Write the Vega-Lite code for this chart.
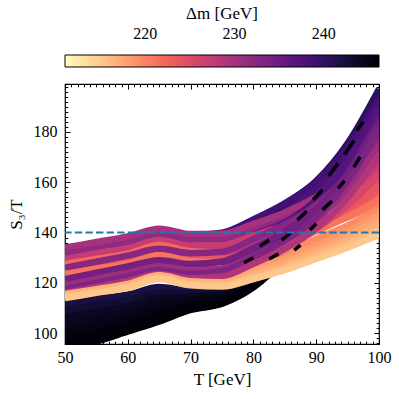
{
"$schema": "https://vega.github.io/schema/vega-lite/v6.json",
"width": 314, "height": 260,
"autosize": {"type": "none"},
"padding": {"left": 65, "top": 84, "right": 20, "bottom": 55},
"background": "white",
"title": {"text": "Δm [GeV]", "anchor": "middle", "frame": "group", "offset": 32, "font": "Liberation Serif", "fontSize": 17, "fontWeight": "normal", "color": "black"},
"config": {
  "view": {"stroke": "black", "strokeWidth": 1.2},
  "font": "Liberation Serif",
  "axis": {"grid": false, "domain": false, "labelFont": "Liberation Serif", "labelFontSize": 16, "labelColor": "black", "titleFont": "Liberation Serif", "titleFontSize": 17, "titleFontWeight": "normal", "titleColor": "black", "tickColor": "black", "tickWidth": 1, "labelFlush": false},
  "legend": {"orient": "none", "direction": "horizontal", "legendX": 0, "legendY": -29, "gradientLength": 314, "gradientThickness": 12, "gradientStrokeColor": "black", "gradientStrokeWidth": 1, "labelFont": "Liberation Serif", "labelFontSize": 16, "labelColor": "black", "padding": 0}
},
"resolve": {"axis": {"x": "independent", "y": "independent"}},
"datasets": {
"dark": [
{"curve":"d7","dm":242,"T":50,"S":112},{"curve":"d7","dm":242,"T":55,"S":113.5},{"curve":"d7","dm":242,"T":60,"S":115},{"curve":"d7","dm":242,"T":65,"S":118},{"curve":"d7","dm":242,"T":70,"S":116.5},{"curve":"d7","dm":242,"T":75,"S":117},{"curve":"d7","dm":242,"T":80,"S":121},{"curve":"d7","dm":242,"T":85,"S":136},{"curve":"d7","dm":242,"T":90,"S":156.5},{"curve":"d7","dm":242,"T":95,"S":174},
{"curve":"d6","dm":243,"T":50,"S":109},{"curve":"d6","dm":243,"T":55,"S":110.8},{"curve":"d6","dm":243,"T":60,"S":112.7},{"curve":"d6","dm":243,"T":65,"S":115.8},{"curve":"d6","dm":243,"T":70,"S":115.3},{"curve":"d6","dm":243,"T":75,"S":116.2},{"curve":"d6","dm":243,"T":80,"S":120.6},{"curve":"d6","dm":243,"T":85,"S":135},{"curve":"d6","dm":243,"T":90,"S":155},{"curve":"d6","dm":243,"T":95,"S":173},
{"curve":"d5","dm":244,"T":50,"S":106},{"curve":"d5","dm":244,"T":55,"S":108},{"curve":"d5","dm":244,"T":60,"S":110.3},{"curve":"d5","dm":244,"T":65,"S":113.7},{"curve":"d5","dm":244,"T":70,"S":114.2},{"curve":"d5","dm":244,"T":75,"S":115.3},{"curve":"d5","dm":244,"T":80,"S":120.2},{"curve":"d5","dm":244,"T":85,"S":134},{"curve":"d5","dm":244,"T":90,"S":153.5},{"curve":"d5","dm":244,"T":95,"S":171.5},
{"curve":"d4","dm":244.5,"T":50,"S":103},{"curve":"d4","dm":244.5,"T":55,"S":105.3},{"curve":"d4","dm":244.5,"T":60,"S":108},{"curve":"d4","dm":244.5,"T":65,"S":111.5},{"curve":"d4","dm":244.5,"T":70,"S":113},{"curve":"d4","dm":244.5,"T":75,"S":114.5},{"curve":"d4","dm":244.5,"T":80,"S":119.8},{"curve":"d4","dm":244.5,"T":85,"S":133},{"curve":"d4","dm":244.5,"T":90,"S":152},{"curve":"d4","dm":244.5,"T":95,"S":170}
],
"blk": [
{"curve":"d3","dm":245,"T":50,"S":100},{"curve":"d3","dm":245,"T":55,"S":102.5},{"curve":"d3","dm":245,"T":60,"S":105.7},{"curve":"d3","dm":245,"T":65,"S":109.3},{"curve":"d3","dm":245,"T":70,"S":111.8},{"curve":"d3","dm":245,"T":75,"S":113.7},{"curve":"d3","dm":245,"T":80,"S":119.3},{"curve":"d3","dm":245,"T":85,"S":132},{"curve":"d3","dm":245,"T":90,"S":150},{"curve":"d3","dm":245,"T":95,"S":168.5},
{"curve":"d2","dm":245.5,"T":50,"S":97},{"curve":"d2","dm":245.5,"T":55,"S":99.8},{"curve":"d2","dm":245.5,"T":60,"S":103.3},{"curve":"d2","dm":245.5,"T":65,"S":107.2},{"curve":"d2","dm":245.5,"T":70,"S":110.7},{"curve":"d2","dm":245.5,"T":75,"S":112.8},{"curve":"d2","dm":245.5,"T":80,"S":118.9},{"curve":"d2","dm":245.5,"T":85,"S":131},{"curve":"d2","dm":245.5,"T":90,"S":148},{"curve":"d2","dm":245.5,"T":95,"S":167},
{"curve":"d1","dm":246,"T":50,"S":94},{"curve":"d1","dm":246,"T":55,"S":97},{"curve":"d1","dm":246,"T":60,"S":101},{"curve":"d1","dm":246,"T":65,"S":105},{"curve":"d1","dm":246,"T":70,"S":109.5},{"curve":"d1","dm":246,"T":75,"S":112},{"curve":"d1","dm":246,"T":80,"S":118.5},{"curve":"d1","dm":246,"T":85,"S":130},{"curve":"d1","dm":246,"T":90,"S":146},{"curve":"d1","dm":246,"T":95,"S":165}
],
"mainA": [
{"curve":"M30","dm":239.5,"T":50,"S":132},{"curve":"M30","dm":239.5,"T":55,"S":134.5},{"curve":"M30","dm":239.5,"T":60,"S":137},{"curve":"M30","dm":239.5,"T":65,"S":139.5},{"curve":"M30","dm":239.5,"T":70,"S":138},{"curve":"M30","dm":239.5,"T":75,"S":139.1},{"curve":"M30","dm":239.5,"T":80,"S":144.6},{"curve":"M30","dm":239.5,"T":85,"S":151.2},{"curve":"M30","dm":239.5,"T":90,"S":160.3},{"curve":"M30","dm":239.5,"T":95,"S":174.6},{"curve":"M30","dm":239.5,"T":100,"S":195},
{"curve":"M2","dm":240.4,"T":50,"S":131},{"curve":"M2","dm":240.4,"T":55,"S":133.6},{"curve":"M2","dm":240.4,"T":60,"S":136.1},{"curve":"M2","dm":240.4,"T":65,"S":138.5},{"curve":"M2","dm":240.4,"T":70,"S":137.1},{"curve":"M2","dm":240.4,"T":75,"S":138.3},{"curve":"M2","dm":240.4,"T":80,"S":144},{"curve":"M2","dm":240.4,"T":85,"S":150.9},{"curve":"M2","dm":240.4,"T":90,"S":160.4},{"curve":"M2","dm":240.4,"T":95,"S":175.4},{"curve":"M2","dm":240.4,"T":100,"S":197},
{"curve":"M1","dm":238.5,"T":50,"S":133},{"curve":"M1","dm":238.5,"T":55,"S":135.5},{"curve":"M1","dm":238.5,"T":60,"S":138},{"curve":"M1","dm":238.5,"T":65,"S":140.5},{"curve":"M1","dm":238.5,"T":70,"S":139},{"curve":"M1","dm":238.5,"T":75,"S":139.9},{"curve":"M1","dm":238.5,"T":80,"S":145.2},{"curve":"M1","dm":238.5,"T":85,"S":151.6},{"curve":"M1","dm":238.5,"T":90,"S":160.3},{"curve":"M1","dm":238.5,"T":95,"S":173.8},{"curve":"M1","dm":238.5,"T":100,"S":193},
{"curve":"M3","dm":237.8,"T":50,"S":129},{"curve":"M3","dm":237.8,"T":55,"S":131.5},{"curve":"M3","dm":237.8,"T":60,"S":134},{"curve":"M3","dm":237.8,"T":65,"S":136.5},{"curve":"M3","dm":237.8,"T":70,"S":135},{"curve":"M3","dm":237.8,"T":75,"S":136},{"curve":"M3","dm":237.8,"T":80,"S":141.5},{"curve":"M3","dm":237.8,"T":85,"S":148},{"curve":"M3","dm":237.8,"T":90,"S":157},{"curve":"M3","dm":237.8,"T":95,"S":171},{"curve":"M3","dm":237.8,"T":100,"S":191},
{"curve":"M4","dm":236,"T":50,"S":127},{"curve":"M4","dm":236,"T":55,"S":129.5},{"curve":"M4","dm":236,"T":60,"S":132},{"curve":"M4","dm":236,"T":65,"S":134.5},{"curve":"M4","dm":236,"T":70,"S":133},{"curve":"M4","dm":236,"T":75,"S":133.9},{"curve":"M4","dm":236,"T":80,"S":139.2},{"curve":"M4","dm":236,"T":85,"S":145.6},{"curve":"M4","dm":236,"T":90,"S":154.3},{"curve":"M4","dm":236,"T":95,"S":167.8},{"curve":"M4","dm":236,"T":100,"S":187},
{"curve":"M5","dm":226.4,"T":50,"S":128},{"curve":"M5","dm":226.4,"T":55,"S":130.2},{"curve":"M5","dm":226.4,"T":60,"S":132.3},{"curve":"M5","dm":226.4,"T":65,"S":135.5},{"curve":"M5","dm":226.4,"T":70,"S":133.3},{"curve":"M5","dm":226.4,"T":75,"S":133.3},{"curve":"M5","dm":226.4,"T":80,"S":137.1},{"curve":"M5","dm":226.4,"T":85,"S":141.6},{"curve":"M5","dm":226.4,"T":90,"S":147.6},{"curve":"M5","dm":226.4,"T":95,"S":155.1},{"curve":"M5","dm":226.4,"T":100,"S":165},
{"curve":"M6","dm":220.3,"T":50,"S":126},{"curve":"M6","dm":220.3,"T":55,"S":128},{"curve":"M6","dm":220.3,"T":60,"S":130},{"curve":"M6","dm":220.3,"T":65,"S":133.5},{"curve":"M6","dm":220.3,"T":70,"S":131},{"curve":"M6","dm":220.3,"T":75,"S":130.5},{"curve":"M6","dm":220.3,"T":80,"S":133.5},{"curve":"M6","dm":220.3,"T":85,"S":137},{"curve":"M6","dm":220.3,"T":90,"S":141.5},{"curve":"M6","dm":220.3,"T":95,"S":146},{"curve":"M6","dm":220.3,"T":100,"S":151},
{"curve":"M13","dm":224.6,"T":50,"S":130.5},{"curve":"M13","dm":224.6,"T":55,"S":132.6},{"curve":"M13","dm":224.6,"T":60,"S":134.7},{"curve":"M13","dm":224.6,"T":65,"S":138},{"curve":"M13","dm":224.6,"T":70,"S":135.7},{"curve":"M13","dm":224.6,"T":75,"S":135.4},{"curve":"M13","dm":224.6,"T":80,"S":138.8},{"curve":"M13","dm":224.6,"T":85,"S":142.7},{"curve":"M13","dm":224.6,"T":90,"S":147.9},{"curve":"M13","dm":224.6,"T":95,"S":153.8},{"curve":"M13","dm":224.6,"T":100,"S":161},
{"curve":"M14","dm":231.7,"T":50,"S":131.5},{"curve":"M14","dm":231.7,"T":55,"S":133.8},{"curve":"M14","dm":231.7,"T":60,"S":136.1},{"curve":"M14","dm":231.7,"T":65,"S":139},{"curve":"M14","dm":231.7,"T":70,"S":137.1},{"curve":"M14","dm":231.7,"T":75,"S":137.4},{"curve":"M14","dm":231.7,"T":80,"S":141.8},{"curve":"M14","dm":231.7,"T":85,"S":146.9},{"curve":"M14","dm":231.7,"T":90,"S":153.9},{"curve":"M14","dm":231.7,"T":95,"S":163.7},{"curve":"M14","dm":231.7,"T":100,"S":177},
{"curve":"M12","dm":229.9,"T":50,"S":134},{"curve":"M12","dm":229.9,"T":55,"S":136.2},{"curve":"M12","dm":229.9,"T":60,"S":138.4},{"curve":"M12","dm":229.9,"T":65,"S":141.5},{"curve":"M12","dm":229.9,"T":70,"S":139.4},{"curve":"M12","dm":229.9,"T":75,"S":139.5},{"curve":"M12","dm":229.9,"T":80,"S":143.4},{"curve":"M12","dm":229.9,"T":85,"S":148},{"curve":"M12","dm":229.9,"T":90,"S":154.2},{"curve":"M12","dm":229.9,"T":95,"S":162.3},{"curve":"M12","dm":229.9,"T":100,"S":173},
{"curve":"M23","dm":227.3,"T":50,"S":129.5},{"curve":"M23","dm":227.3,"T":55,"S":131.7},{"curve":"M23","dm":227.3,"T":60,"S":133.8},{"curve":"M23","dm":227.3,"T":65,"S":137},{"curve":"M23","dm":227.3,"T":70,"S":134.8},{"curve":"M23","dm":227.3,"T":75,"S":134.8},{"curve":"M23","dm":227.3,"T":80,"S":138.7},{"curve":"M23","dm":227.3,"T":85,"S":143.2},{"curve":"M23","dm":227.3,"T":90,"S":149.2},{"curve":"M23","dm":227.3,"T":95,"S":156.9},{"curve":"M23","dm":227.3,"T":100,"S":167},
{"curve":"M15","dm":222,"T":50,"S":127.5},{"curve":"M15","dm":222,"T":55,"S":129.5},{"curve":"M15","dm":222,"T":60,"S":131.6},{"curve":"M15","dm":222,"T":65,"S":135},{"curve":"M15","dm":222,"T":70,"S":132.6},{"curve":"M15","dm":222,"T":75,"S":132.2},{"curve":"M15","dm":222,"T":80,"S":135.3},{"curve":"M15","dm":222,"T":85,"S":139},{"curve":"M15","dm":222,"T":90,"S":143.9},{"curve":"M15","dm":222,"T":95,"S":149},{"curve":"M15","dm":222,"T":100,"S":155},
{"curve":"M7","dm":236.9,"T":50,"S":124},{"curve":"M7","dm":236.9,"T":55,"S":126.5},{"curve":"M7","dm":236.9,"T":60,"S":129.1},{"curve":"M7","dm":236.9,"T":65,"S":131.5},{"curve":"M7","dm":236.9,"T":70,"S":130.1},{"curve":"M7","dm":236.9,"T":75,"S":131.2},{"curve":"M7","dm":236.9,"T":80,"S":136.9},{"curve":"M7","dm":236.9,"T":85,"S":143.7},{"curve":"M7","dm":236.9,"T":90,"S":153},{"curve":"M7","dm":236.9,"T":95,"S":167.8},{"curve":"M7","dm":236.9,"T":100,"S":189},
{"curve":"M16","dm":228.2,"T":50,"S":125},{"curve":"M16","dm":228.2,"T":55,"S":127.3},{"curve":"M16","dm":228.2,"T":60,"S":129.5},{"curve":"M16","dm":228.2,"T":65,"S":132.5},{"curve":"M16","dm":228.2,"T":70,"S":130.5},{"curve":"M16","dm":228.2,"T":75,"S":130.8},{"curve":"M16","dm":228.2,"T":80,"S":135.1},{"curve":"M16","dm":228.2,"T":85,"S":140.1},{"curve":"M16","dm":228.2,"T":90,"S":146.9},{"curve":"M16","dm":228.2,"T":95,"S":156.3},{"curve":"M16","dm":228.2,"T":100,"S":169},
{"curve":"M8","dm":223.4,"T":50,"S":122},{"curve":"M8","dm":223.4,"T":55,"S":124.1},{"curve":"M8","dm":223.4,"T":60,"S":126.3},{"curve":"M8","dm":223.4,"T":65,"S":129.5},{"curve":"M8","dm":223.4,"T":70,"S":127.3},{"curve":"M8","dm":223.4,"T":75,"S":127.2},{"curve":"M8","dm":223.4,"T":80,"S":130.9},{"curve":"M8","dm":223.4,"T":85,"S":135.2},{"curve":"M8","dm":223.4,"T":90,"S":140.9},{"curve":"M8","dm":223.4,"T":95,"S":147.9},{"curve":"M8","dm":223.4,"T":100,"S":157}
],
"mainB": [
{"curve":"M27","dm":223.8,"T":50,"S":124.5},{"curve":"M27","dm":223.8,"T":55,"S":126.6},{"curve":"M27","dm":223.8,"T":60,"S":128.8},{"curve":"M27","dm":223.8,"T":65,"S":132},{"curve":"M27","dm":223.8,"T":70,"S":129.8},{"curve":"M27","dm":223.8,"T":75,"S":129.6},{"curve":"M27","dm":223.8,"T":80,"S":133.3},{"curve":"M27","dm":223.8,"T":85,"S":137.6},{"curve":"M27","dm":223.8,"T":90,"S":143.2},{"curve":"M27","dm":223.8,"T":95,"S":150.2},{"curve":"M27","dm":223.8,"T":100,"S":159},
{"curve":"M24","dm":232.5,"T":50,"S":126},{"curve":"M24","dm":232.5,"T":55,"S":128.4},{"curve":"M24","dm":232.5,"T":60,"S":130.8},{"curve":"M24","dm":232.5,"T":65,"S":133.5},{"curve":"M24","dm":232.5,"T":70,"S":131.8},{"curve":"M24","dm":232.5,"T":75,"S":132.4},{"curve":"M24","dm":232.5,"T":80,"S":137.3},{"curve":"M24","dm":232.5,"T":85,"S":143.1},{"curve":"M24","dm":232.5,"T":90,"S":151},{"curve":"M24","dm":232.5,"T":95,"S":162.7},{"curve":"M24","dm":232.5,"T":100,"S":179},
{"curve":"M17","dm":221.1,"T":50,"S":123.5},{"curve":"M17","dm":221.1,"T":55,"S":125.6},{"curve":"M17","dm":221.1,"T":60,"S":127.6},{"curve":"M17","dm":221.1,"T":65,"S":131},{"curve":"M17","dm":221.1,"T":70,"S":128.6},{"curve":"M17","dm":221.1,"T":75,"S":128.3},{"curve":"M17","dm":221.1,"T":80,"S":131.6},{"curve":"M17","dm":221.1,"T":85,"S":135.5},{"curve":"M17","dm":221.1,"T":90,"S":140.5},{"curve":"M17","dm":221.1,"T":95,"S":146.2},{"curve":"M17","dm":221.1,"T":100,"S":153},
{"curve":"M9","dm":235.2,"T":50,"S":120},{"curve":"M9","dm":235.2,"T":55,"S":122.5},{"curve":"M9","dm":235.2,"T":60,"S":125.1},{"curve":"M9","dm":235.2,"T":65,"S":127.5},{"curve":"M9","dm":235.2,"T":70,"S":126.1},{"curve":"M9","dm":235.2,"T":75,"S":127.2},{"curve":"M9","dm":235.2,"T":80,"S":132.9},{"curve":"M9","dm":235.2,"T":85,"S":139.7},{"curve":"M9","dm":235.2,"T":90,"S":149},{"curve":"M9","dm":235.2,"T":95,"S":163.8},{"curve":"M9","dm":235.2,"T":100,"S":185},
{"curve":"M22","dm":219.4,"T":50,"S":121},{"curve":"M22","dm":219.4,"T":55,"S":123},{"curve":"M22","dm":219.4,"T":60,"S":125.1},{"curve":"M22","dm":219.4,"T":65,"S":128.5},{"curve":"M22","dm":219.4,"T":70,"S":126.1},{"curve":"M22","dm":219.4,"T":75,"S":125.7},{"curve":"M22","dm":219.4,"T":80,"S":128.9},{"curve":"M22","dm":219.4,"T":85,"S":132.6},{"curve":"M22","dm":219.4,"T":90,"S":137.5},{"curve":"M22","dm":219.4,"T":95,"S":142.8},{"curve":"M22","dm":219.4,"T":100,"S":149},
{"curve":"M19","dm":225.5,"T":50,"S":120},{"curve":"M19","dm":225.5,"T":55,"S":122.2},{"curve":"M19","dm":225.5,"T":60,"S":124.5},{"curve":"M19","dm":225.5,"T":65,"S":127.5},{"curve":"M19","dm":225.5,"T":70,"S":125.5},{"curve":"M19","dm":225.5,"T":75,"S":125.7},{"curve":"M19","dm":225.5,"T":80,"S":129.9},{"curve":"M19","dm":225.5,"T":85,"S":134.9},{"curve":"M19","dm":225.5,"T":90,"S":141.6},{"curve":"M19","dm":225.5,"T":95,"S":150.7},{"curve":"M19","dm":225.5,"T":100,"S":163},
{"curve":"M18","dm":234.3,"T":50,"S":121.5},{"curve":"M18","dm":234.3,"T":55,"S":124},{"curve":"M18","dm":234.3,"T":60,"S":126.5},{"curve":"M18","dm":234.3,"T":65,"S":129},{"curve":"M18","dm":234.3,"T":70,"S":127.5},{"curve":"M18","dm":234.3,"T":75,"S":128.5},{"curve":"M18","dm":234.3,"T":80,"S":133.9},{"curve":"M18","dm":234.3,"T":85,"S":140.4},{"curve":"M18","dm":234.3,"T":90,"S":149.3},{"curve":"M18","dm":234.3,"T":95,"S":163.2},{"curve":"M18","dm":234.3,"T":100,"S":183},
{"curve":"M10","dm":218.5,"T":50,"S":118},{"curve":"M10","dm":218.5,"T":55,"S":120.1},{"curve":"M10","dm":218.5,"T":60,"S":122.1},{"curve":"M10","dm":218.5,"T":65,"S":125.5},{"curve":"M10","dm":218.5,"T":70,"S":123.1},{"curve":"M10","dm":218.5,"T":75,"S":122.8},{"curve":"M10","dm":218.5,"T":80,"S":126},{"curve":"M10","dm":218.5,"T":85,"S":129.9},{"curve":"M10","dm":218.5,"T":90,"S":134.9},{"curve":"M10","dm":218.5,"T":95,"S":140.4},{"curve":"M10","dm":218.5,"T":100,"S":147},
{"curve":"M21","dm":230.8,"T":50,"S":119},{"curve":"M21","dm":230.8,"T":55,"S":121.4},{"curve":"M21","dm":230.8,"T":60,"S":123.8},{"curve":"M21","dm":230.8,"T":65,"S":126.5},{"curve":"M21","dm":230.8,"T":70,"S":124.8},{"curve":"M21","dm":230.8,"T":75,"S":125.6},{"curve":"M21","dm":230.8,"T":80,"S":130.7},{"curve":"M21","dm":230.8,"T":85,"S":136.7},{"curve":"M21","dm":230.8,"T":90,"S":145},{"curve":"M21","dm":230.8,"T":95,"S":157.4},{"curve":"M21","dm":230.8,"T":100,"S":175},
{"curve":"M20","dm":217.6,"T":50,"S":116.5},{"curve":"M20","dm":217.6,"T":55,"S":118.5},{"curve":"M20","dm":217.6,"T":60,"S":120.6},{"curve":"M20","dm":217.6,"T":65,"S":124},{"curve":"M20","dm":217.6,"T":70,"S":121.6},{"curve":"M20","dm":217.6,"T":75,"S":121.2},{"curve":"M20","dm":217.6,"T":80,"S":124.5},{"curve":"M20","dm":217.6,"T":85,"S":128.3},{"curve":"M20","dm":217.6,"T":90,"S":133.2},{"curve":"M20","dm":217.6,"T":95,"S":138.6},{"curve":"M20","dm":217.6,"T":100,"S":145},
{"curve":"M11","dm":233.4,"T":50,"S":117.5},{"curve":"M11","dm":233.4,"T":55,"S":120},{"curve":"M11","dm":233.4,"T":60,"S":122.5},{"curve":"M11","dm":233.4,"T":65,"S":125},{"curve":"M11","dm":233.4,"T":70,"S":123.5},{"curve":"M11","dm":233.4,"T":75,"S":124.6},{"curve":"M11","dm":233.4,"T":80,"S":130.2},{"curve":"M11","dm":233.4,"T":85,"S":136.8},{"curve":"M11","dm":233.4,"T":90,"S":146},{"curve":"M11","dm":233.4,"T":95,"S":160.4},{"curve":"M11","dm":233.4,"T":100,"S":181},
{"curve":"M25","dm":229,"T":50,"S":116},{"curve":"M25","dm":229,"T":55,"S":118.4},{"curve":"M25","dm":229,"T":60,"S":120.8},{"curve":"M25","dm":229,"T":65,"S":123.5},{"curve":"M25","dm":229,"T":70,"S":121.8},{"curve":"M25","dm":229,"T":75,"S":122.5},{"curve":"M25","dm":229,"T":80,"S":127.6},{"curve":"M25","dm":229,"T":85,"S":133.5},{"curve":"M25","dm":229,"T":90,"S":141.6},{"curve":"M25","dm":229,"T":95,"S":153.8},{"curve":"M25","dm":229,"T":100,"S":171},
{"curve":"M26","dm":216.8,"T":50,"S":115.5},{"curve":"M26","dm":216.8,"T":55,"S":117.5},{"curve":"M26","dm":216.8,"T":60,"S":119.6},{"curve":"M26","dm":216.8,"T":65,"S":123},{"curve":"M26","dm":216.8,"T":70,"S":120.6},{"curve":"M26","dm":216.8,"T":75,"S":120.2},{"curve":"M26","dm":216.8,"T":80,"S":123.3},{"curve":"M26","dm":216.8,"T":85,"S":127},{"curve":"M26","dm":216.8,"T":90,"S":131.9},{"curve":"M26","dm":216.8,"T":95,"S":137},{"curve":"M26","dm":216.8,"T":100,"S":143},
{"curve":"M28","dm":215.9,"T":50,"S":114.5},{"curve":"M28","dm":215.9,"T":55,"S":116.5},{"curve":"M28","dm":215.9,"T":60,"S":118.5},{"curve":"M28","dm":215.9,"T":65,"S":122},{"curve":"M28","dm":215.9,"T":70,"S":119.5},{"curve":"M28","dm":215.9,"T":75,"S":119.1},{"curve":"M28","dm":215.9,"T":80,"S":122.2},{"curve":"M28","dm":215.9,"T":85,"S":125.8},{"curve":"M28","dm":215.9,"T":90,"S":130.5},{"curve":"M28","dm":215.9,"T":95,"S":135.4},{"curve":"M28","dm":215.9,"T":100,"S":141},
{"curve":"M29","dm":215,"T":50,"S":114},{"curve":"M29","dm":215,"T":55,"S":116},{"curve":"M29","dm":215,"T":60,"S":118},{"curve":"M29","dm":215,"T":65,"S":121.5},{"curve":"M29","dm":215,"T":70,"S":119},{"curve":"M29","dm":215,"T":75,"S":118.5},{"curve":"M29","dm":215,"T":80,"S":121.5},{"curve":"M29","dm":215,"T":85,"S":125},{"curve":"M29","dm":215,"T":90,"S":129.5},{"curve":"M29","dm":215,"T":95,"S":134},{"curve":"M29","dm":215,"T":100,"S":139}
],
"frag": [
{"curve":"S1","dm":246,"T":78.5,"S":128},{"curve":"S1","dm":246,"T":80,"S":130},
{"curve":"S2","dm":246,"T":81,"S":134.5},{"curve":"S2","dm":246,"T":82.5,"S":137},
{"curve":"S3","dm":246,"T":82.5,"S":129.5},{"curve":"S3","dm":246,"T":84,"S":131.5},
{"curve":"S4","dm":246,"T":84.5,"S":137},{"curve":"S4","dm":246,"T":86,"S":140},
{"curve":"S5","dm":246,"T":86.5,"S":133},{"curve":"S5","dm":246,"T":87.5,"S":135},
{"curve":"S6","dm":246,"T":87,"S":145},{"curve":"S6","dm":246,"T":88.5,"S":148.5},
{"curve":"S7","dm":246,"T":89,"S":141},{"curve":"S7","dm":246,"T":90,"S":143.5},
{"curve":"S8","dm":246,"T":89.5,"S":153},{"curve":"S8","dm":246,"T":91,"S":157},
{"curve":"S9","dm":246,"T":91,"S":149},{"curve":"S9","dm":246,"T":92.5,"S":152.5},
{"curve":"S10","dm":246,"T":92,"S":162.5},{"curve":"S10","dm":246,"T":93.5,"S":167.5},
{"curve":"S11","dm":246,"T":93.5,"S":157.5},{"curve":"S11","dm":246,"T":94.5,"S":160.5},
{"curve":"S12","dm":246,"T":94.5,"S":171},{"curve":"S12","dm":246,"T":96,"S":176.5},
{"curve":"S13","dm":246,"T":96,"S":166},{"curve":"S13","dm":246,"T":97,"S":170},
{"curve":"S14","dm":246,"T":96.5,"S":180.5},{"curve":"S14","dm":246,"T":97.5,"S":184}
],
"ref": [{"S": 140}]
},
"layer": [
{
 "data": {"name": "dark"},
 "mark": {"type": "line", "interpolate": "monotone", "strokeWidth": 8, "clip": true},
 "encoding": {
  "x": {"field": "T", "type": "quantitative", "scale": {"domain": [50, 100], "nice": false, "zero": false},
        "axis": {"orient": "bottom", "values": [50, 60, 70, 80, 90, 100], "ticks": false, "labelPadding": 5, "title": "T [GeV]", "titlePadding": 6}},
  "y": {"field": "S", "type": "quantitative", "scale": {"domain": [95.7, 199], "nice": false, "zero": false},
        "axis": {"orient": "left", "values": [100, 120, 140, 160, 180], "ticks": false, "labelPadding": 8, "title": "S₃/T", "titlePadding": 8}},
  "color": {"field": "dm", "type": "quantitative", "scale": {"scheme": "magma", "reverse": true, "domain": [211, 246.2]},
            "legend": {"title": null, "values": [220, 230, 240], "labelOffset": -41}},
  "detail": {"field": "curve"}
 }
},
{
 "data": {"name": "blk"},
 "mark": {"type": "line", "interpolate": "monotone", "strokeWidth": 8, "clip": true},
 "encoding": {
  "x": {"field": "T", "type": "quantitative", "axis": {"orient": "bottom", "values": [50, 60, 70, 80, 90, 100], "tickSize": -5, "labels": false, "title": null}},
  "y": {"field": "S", "type": "quantitative", "axis": {"orient": "left", "values": [100, 120, 140, 160, 180], "tickSize": -5, "labels": false, "title": null}},
  "color": {"field": "dm", "type": "quantitative"},
  "detail": {"field": "curve"}
 }
},
{
 "data": {"name": "mainA"},
 "mark": {"type": "line", "interpolate": "monotone", "strokeWidth": 6.5, "clip": true},
 "encoding": {
  "x": {"field": "T", "type": "quantitative", "axis": {"orient": "bottom", "values": [51,52,53,54,55,56,57,58,59,61,62,63,64,65,66,67,68,69,71,72,73,74,75,76,77,78,79,81,82,83,84,85,86,87,88,89,91,92,93,94,95,96,97,98,99], "tickSize": -2.8, "labels": false, "title": null}},
  "y": {"field": "S", "type": "quantitative", "axis": {"orient": "left", "values": [96,98,102,104,106,108,110,112,114,116,118,122,124,126,128,130,132,134,136,138,142,144,146,148,150,152,154,156,158,162,164,166,168,170,172,174,176,178,182,184,186,188,190,192,194,196,198], "tickSize": -2.8, "labels": false, "title": null}},
  "color": {"field": "dm", "type": "quantitative"},
  "detail": {"field": "curve"}
 }
},
{
 "data": {"name": "mainB"},
 "mark": {"type": "line", "interpolate": "monotone", "strokeWidth": 6.5, "clip": true},
 "encoding": {
  "x": {"field": "T", "type": "quantitative", "axis": {"orient": "top", "values": [51,52,53,54,55,56,57,58,59,61,62,63,64,65,66,67,68,69,71,72,73,74,75,76,77,78,79,81,82,83,84,85,86,87,88,89,91,92,93,94,95,96,97,98,99], "tickSize": -2.8, "labels": false, "title": null}},
  "y": {"field": "S", "type": "quantitative", "axis": {"orient": "right", "values": [96,98,102,104,106,108,110,112,114,116,118,122,124,126,128,130,132,134,136,138,142,144,146,148,150,152,154,156,158,162,164,166,168,170,172,174,176,178,182,184,186,188,190,192,194,196,198], "tickSize": -2.8, "labels": false, "title": null}},
  "color": {"field": "dm", "type": "quantitative"},
  "detail": {"field": "curve"}
 }
},
{
 "data": {"name": "frag"},
 "mark": {"type": "line", "strokeWidth": 3.5, "clip": true},
 "encoding": {
  "x": {"field": "T", "type": "quantitative", "axis": {"orient": "top", "values": [50, 60, 70, 80, 90, 100], "tickSize": -5, "labels": false, "title": null}},
  "y": {"field": "S", "type": "quantitative", "axis": {"orient": "right", "values": [100, 120, 140, 160, 180], "tickSize": -5, "labels": false, "title": null}},
  "color": {"field": "dm", "type": "quantitative"},
  "detail": {"field": "curve"}
 }
},
{
 "data": {"name": "ref"},
 "mark": {"type": "rule", "color": "#1f77b4", "strokeWidth": 2, "strokeDash": [7.4, 3.2]},
 "encoding": {
  "y": {"field": "S", "type": "quantitative", "axis": null}
 }
}
]
}
